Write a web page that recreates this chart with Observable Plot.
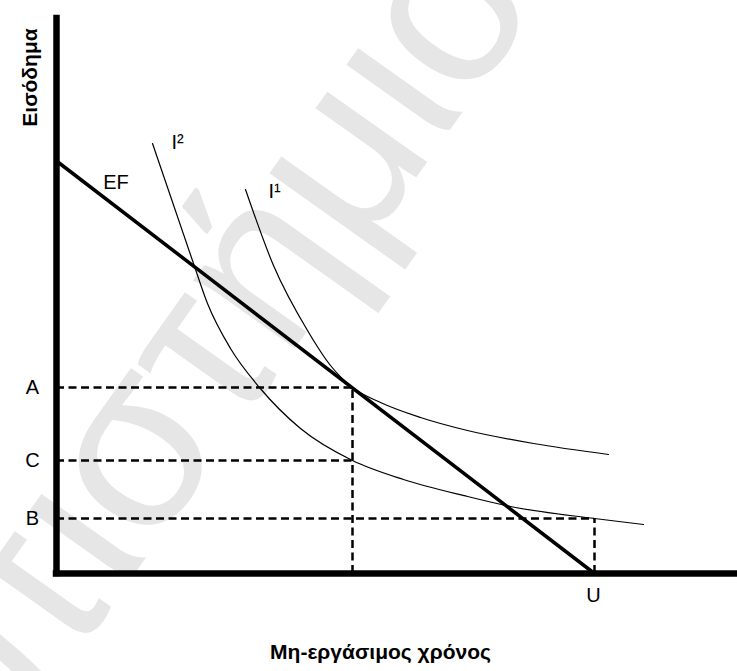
<!DOCTYPE html>
<html>
<head>
<meta charset="utf-8">
<script src="https://cdn.jsdelivr.net/npm/d3@7"></script>
<script src="https://cdn.jsdelivr.net/npm/@observablehq/plot@0.6"></script>
<style>
  html, body { margin: 0; padding: 0; background: #fff; }
  #chart svg { display: block; }
</style>
</head>
<body>
<div id="chart"></div>
<script>
// Budget line EF (income vs non-working time), in abstract units
const budgetX = [0, 10.76];
const budgetY = [8.25, 0];

// Indifference curve I1 (tangent to EF)
const i1X = [3.78, 4.34, 5.02, 5.48, 5.92, 6.48, 7.28, 8.22, 9.54, 11.04];
const i1Y = [7.68, 6.16, 4.86, 4.16, 3.72, 3.42, 3.12, 2.86, 2.60, 2.38];

// Indifference curve I2 (cuts EF twice)
const i2X = [1.92, 2.74, 3.02, 3.48, 4.06, 4.88, 5.92, 6.94, 8.22, 9.08, 10.76, 11.74];
const i2Y = [8.60, 6.20, 5.40, 4.50, 3.72, 2.90, 2.26, 1.88, 1.54, 1.34, 1.10, 0.98];

// Income levels and where their guide lines end
const levelLabels = ["A", "C", "B"];
const levelValues = [3.72, 2.26, 1.10];
const levelEnds   = [5.92, 5.92, 10.76];

// Non-working time points on the horizontal axis
const timeValues = [5.92, 10.76];
const timeTops   = [3.72, 1.10];
const uLabel = "U";

const curveLabels = ["I²", "I¹"];
const budgetLabel = "EF";
const yTitle = "Εισόδημα";
const xTitle = "Μη-εργάσιμος χρόνος";
const watermark = "Πανεπιστήμιο";

const budget = budgetX.map((x, i) => ({x, y: budgetY[i]}));
const i1 = i1X.map((x, i) => ({x, y: i1Y[i]}));
const i2 = i2X.map((x, i) => ({x, y: i2Y[i]}));
const levels = levelLabels.map((label, i) => ({label, value: levelValues[i], end: levelEnds[i]}));
const verticals = timeValues.map((x, i) => ({x, top: timeTops[i]}));

const font = "'Liberation Sans', Arial, Helvetica, sans-serif";
const dash = "8,4.5";

const chart = Plot.plot({
  width: 737,
  height: 671,
  marginLeft: 56,
  marginRight: 0,
  marginTop: 18,
  marginBottom: 98,
  x: {domain: [0, 13.62], axis: null},
  y: {domain: [0, 11.1], axis: null},
  style: {fontFamily: font, fontSize: "20px", background: "#fff", color: "#000"},
  marks: [
    // faint watermark
    Plot.text([watermark], {
      frameAnchor: "top-right", dx: -330, dy: -112, rotate: -54.6,
      text: d => d, textAnchor: "end", fontSize: 231, fill: "#e6e6e6",
      fontFamily: font, ariaLabel: "watermark"
    }),
    // dashed guides
    Plot.ruleY(levels, {y: "value", x1: 0, x2: "end", stroke: "#000", strokeWidth: 2.5, strokeDasharray: dash}),
    Plot.ruleX(verticals, {x: "x", y1: 0, y2: "top", stroke: "#000", strokeWidth: 2.5, strokeDasharray: dash}),
    // indifference curves
    Plot.line(i1, {x: "x", y: "y", curve: "monotone-x", stroke: "#000", strokeWidth: 1.2}),
    Plot.line(i2, {x: "x", y: "y", curve: "monotone-x", stroke: "#000", strokeWidth: 1.2}),
    // budget line
    Plot.line(budget, {x: "x", y: "y", stroke: "#000", strokeWidth: 3.5}),
    // axes
    Plot.ruleX([0], {stroke: "#000", strokeWidth: 6.5, strokeLinecap: "square"}),
    Plot.ruleY([0], {stroke: "#000", strokeWidth: 6.5, strokeLinecap: "square"}),
    // labels
    Plot.text(levels, {x: 0, y: "value", text: "label", dx: -24, textAnchor: "middle", fill: "#000", ariaLabel: "narrow"}),
    Plot.text([{x: timeValues[1], label: uLabel}], {x: "x", y: 0, text: "label", dx: -1, dy: 22, textAnchor: "middle", fill: "#000", ariaLabel: "narrow"}),
    Plot.text([budget[0]], {x: "x", y: "y", text: () => budgetLabel, dx: 59.5, dy: 21.5, textAnchor: "middle", fill: "#000", ariaLabel: "narrow"}),
    Plot.text([i2[0]], {x: "x", y: "y", text: () => curveLabels[0], dx: 19, dy: -1, textAnchor: "start", fill: "#000", ariaLabel: "narrow"}),
    Plot.text([i1[0]], {x: "x", y: "y", text: () => curveLabels[1], dx: 23, dy: 2, textAnchor: "start", fill: "#000", ariaLabel: "narrow"}),
    // axis titles
    Plot.text([yTitle], {frameAnchor: "top-left", text: d => d, dx: -34, dy: 59, rotate: -90, textAnchor: "middle", fontWeight: "bold", fontSize: 21, fill: "#000", ariaLabel: "ytitle"}),
    Plot.text([xTitle], {frameAnchor: "bottom", text: d => d, dx: -16.5, dy: 85, textAnchor: "middle", fontWeight: "bold", fontSize: 21, fill: "#000", ariaLabel: "xtitle"})
  ]
});

document.getElementById("chart").appendChild(chart);

// Condense the label glyphs (the original uses a narrow sans face)
const root = d3.select(chart);
root.selectAll('g[aria-label="narrow"] text').each(function() {
  const w = this.getComputedTextLength();
  this.setAttribute("textLength", (w * 0.82).toFixed(1));
  this.setAttribute("lengthAdjust", "spacingAndGlyphs");
});
root.selectAll('g[aria-label="xtitle"] text').attr("textLength", 206).attr("lengthAdjust", "spacingAndGlyphs");
root.selectAll('g[aria-label="ytitle"] text').attr("textLength", 90).attr("lengthAdjust", "spacingAndGlyphs");
</script>
</body>
</html>
